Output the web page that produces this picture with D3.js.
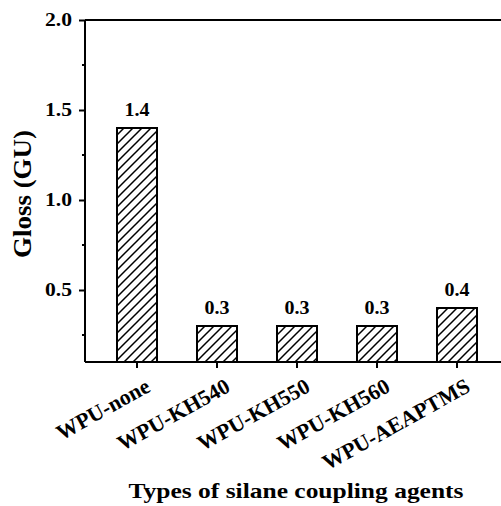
<!DOCTYPE html>
<html>
<head>
<meta charset="utf-8">
<script src="https://cdn.jsdelivr.net/npm/d3@7"></script>
<style>
  html, body { margin: 0; padding: 0; background: #fff; }
  svg { display: block; font-family: 'Liberation Serif', 'Times New Roman', serif; font-weight: bold; }
</style>
</head>
<body>
<div class="chart"></div>
<script>
const categories = ['WPU-none', 'WPU-KH540', 'WPU-KH550', 'WPU-KH560', 'WPU-AEAPTMS'];
const glossValues = [1.4, 0.3, 0.3, 0.3, 0.4];
const yTicks = [0.5, 1.0, 1.5, 2.0];
const yMinorTicks = [0.25, 0.75, 1.25, 1.75];

const width = 501;
const height = 506;
const margin = { top: 20, right: -8, bottom: 144, left: 85 };

const svg = d3.select('.chart')
  .append('svg')
  .attr('width', width)
  .attr('height', height);

// diagonal hatch for bars
svg.append('defs')
  .append('pattern')
  .attr('id', 'hatch')
  .attr('patternUnits', 'userSpaceOnUse')
  .attr('width', 9)
  .attr('height', 9)
  .call(p => {
    p.append('rect').attr('width', 9).attr('height', 9).attr('fill', '#fff');
    p.append('path')
      .attr('d', 'M-2,2 l4,-4 M0,9 l9,-9 M7,11 l4,-4')
      .attr('stroke', '#000')
      .attr('stroke-width', 1.5);
  });

const x = d3.scaleBand()
  .domain(categories)
  .range([margin.left, width - margin.right])
  .paddingInner(0.5)
  .paddingOuter(0.4);

const y = d3.scaleLinear()
  .domain([0.1, 2.0])
  .range([height - margin.bottom, margin.top]);

// bars
svg.selectAll('rect.bar')
  .data(glossValues)
  .enter()
  .append('rect')
  .attr('class', 'bar')
  .attr('x', (d, i) => x(categories[i]))
  .attr('y', d => y(d))
  .attr('width', x.bandwidth())
  .attr('height', d => y(0.1) - y(d))
  .attr('fill', 'url(#hatch)')
  .attr('stroke', '#000')
  .attr('stroke-width', 2);

// value labels
svg.selectAll('text.val')
  .data(glossValues)
  .enter()
  .append('text')
  .attr('class', 'val')
  .attr('x', (d, i) => x(categories[i]) + x.bandwidth() / 2)
  .attr('y', d => y(d) - 12)
  .attr('text-anchor', 'middle')
  .attr('font-size', 18)
  .attr('textLength', 25)
  .attr('lengthAdjust', 'spacingAndGlyphs')
  .text(d => d.toFixed(1));

// top frame line
svg.append('line')
  .attr('x1', margin.left).attr('x2', width)
  .attr('y1', y(2.0)).attr('y2', y(2.0))
  .attr('stroke', '#000').attr('stroke-width', 2);

// y axis
const yAxis = svg.append('g')
  .attr('transform', 'translate(' + margin.left + ',0)')
  .call(d3.axisLeft(y).tickValues(yTicks).tickFormat(d3.format('.1f')).tickSize(6).tickPadding(7));
yAxis.select('.domain').attr('stroke-width', 2).attr('d', 'M0,' + y(2.0) + 'V' + y(0.1));
yAxis.selectAll('.tick line').attr('stroke-width', 2);
yAxis.selectAll('.tick text')
  .attr('font-family', 'Liberation Serif, serif')
  .attr('font-weight', 'bold')
  .attr('font-size', 18)
  .attr('textLength', 27)
  .attr('lengthAdjust', 'spacingAndGlyphs')
  .attr('fill', '#000');

svg.append('g')
  .attr('transform', 'translate(' + margin.left + ',0)')
  .selectAll('line')
  .data(yMinorTicks)
  .enter()
  .append('line')
  .attr('x1', -3).attr('x2', 0)
  .attr('y1', d => y(d)).attr('y2', d => y(d))
  .attr('stroke', '#000').attr('stroke-width', 2);

// x axis
const xAxis = svg.append('g')
  .attr('transform', 'translate(0,' + y(0.1) + ')')
  .call(d3.axisBottom(x).tickSize(6).tickSizeOuter(0));
xAxis.select('.domain').attr('stroke-width', 2).attr('d', 'M' + margin.left + ',0H' + width);
xAxis.selectAll('.tick line').attr('stroke-width', 2);
xAxis.selectAll('.tick text')
  .attr('font-family', 'Liberation Serif, serif')
  .attr('font-weight', 'bold')
  .attr('font-size', 21.8)
  .attr('fill', '#000')
  .attr('text-anchor', 'end')
  .attr('y', 0)
  .attr('dy', '0.72em')
  .attr('transform', 'translate(7,15) rotate(-29)');

// axis titles
svg.append('text')
  .attr('x', 296)
  .attr('y', 498)
  .attr('text-anchor', 'middle')
  .attr('font-size', 22)
  .attr('textLength', 335)
  .attr('lengthAdjust', 'spacingAndGlyphs')
  .text('Types of silane coupling agents');

svg.append('text')
  .attr('transform', 'translate(31,194) rotate(-90)')
  .attr('text-anchor', 'middle')
  .attr('font-size', 25)
  .attr('textLength', 128)
  .attr('lengthAdjust', 'spacingAndGlyphs')
  .text('Gloss (GU)');
</script>
</body>
</html>
